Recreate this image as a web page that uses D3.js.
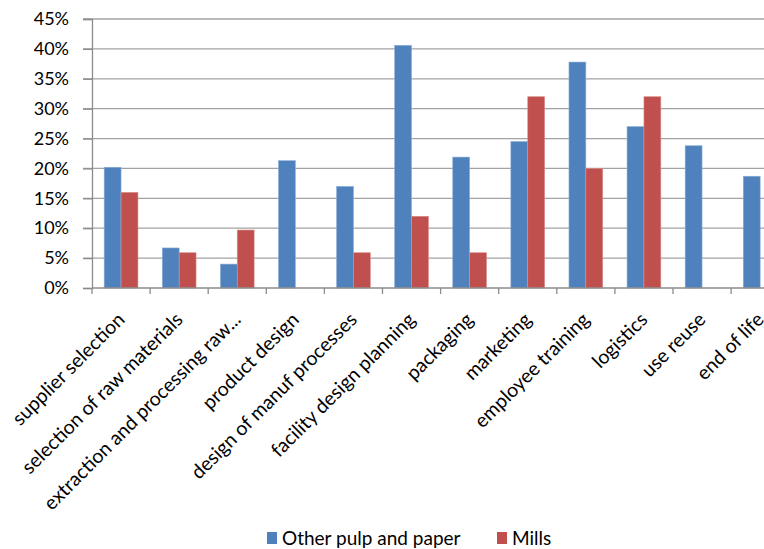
<!DOCTYPE html>
<html>
<head>
<meta charset="utf-8">
<script src="https://cdn.jsdelivr.net/npm/d3@7"></script>
<style>
  html, body { margin: 0; padding: 0; background: #ffffff; }
  svg { display: block; }
  text { font-family: Lato, "Open Sans", sans-serif; fill: #000; }
</style>
</head>
<body>
<script>
// Categories along the x axis
const categories = [
  "supplier selection", "selection of raw materials", "extraction and processing raw...",
  "product design", "design of manuf processes", "facility design planning",
  "packaging", "marketing", "employee training", "logistics", "use reuse", "end of life"
];
// Series values (%)
const otherPulpPaper = [20.2, 6.7, 4.0, 21.3, 17.0, 40.6, 21.9, 24.5, 37.8, 27.0, 23.8, 18.7];
const mills          = [16.0, 5.9, 9.7, 0,    5.9,  12.0, 5.9,  32.0, 20.0, 32.0, 0,    0];
const seriesNames = ["Other pulp and paper", "Mills"];
const seriesColors = ["#4F81BD", "#C0504D"];
// Y axis ticks (%)
const yTicks = [0, 5, 10, 15, 20, 25, 30, 35, 40, 45];

const W = 764, H = 549;
const plotLeft = 92, plotTop = 19, plotBottom = 288;
const band = 58.1;
const plotRight = plotLeft + band * categories.length;

const svg = d3.select("body").append("svg").attr("width", W).attr("height", H);

const x = d3.scaleBand().domain(categories).range([plotLeft, plotRight]).paddingInner(0).paddingOuter(0);
const y = d3.scaleLinear().domain([0, 45]).range([plotBottom, plotTop]);
const xs = d3.scaleBand().domain(seriesNames).range([0, band]).paddingInner(0).paddingOuter(0.72);

// Horizontal gridlines
svg.append("g")
  .selectAll("line")
  .data(yTicks.filter(d => d > 0))
  .join("line")
  .attr("x1", plotLeft - 9).attr("x2", plotRight)
  .attr("y1", d => y(d)).attr("y2", d => y(d))
  .attr("stroke", "#a3a3a3").attr("stroke-width", 1.3);

// Y axis
const yAxis = d3.axisLeft(y).tickValues(yTicks).tickFormat(d => d + "%").tickSize(9).tickPadding(14);
const gy = svg.append("g").attr("transform", `translate(${plotLeft},0)`).call(yAxis);
gy.select(".domain").attr("stroke", "#8c8c8c").attr("stroke-width", 1.3);
gy.selectAll(".tick line").attr("stroke", "#8c8c8c").attr("stroke-width", 1.3);
gy.selectAll(".tick text").style("font-size", "18px").style("font-family", "Lato, sans-serif").attr("fill", "#000");

// Bars
const rows = categories.map((c, i) => ({ cat: c, vals: [otherPulpPaper[i], mills[i]] }));
const groups = svg.append("g").selectAll("g")
  .data(rows).join("g")
  .attr("transform", d => `translate(${x(d.cat)},0)`);
groups.selectAll("rect")
  .data(d => d.vals.map((v, k) => ({ v, k })).filter(e => e.v > 0))
  .join("rect")
  .attr("x", e => xs(seriesNames[e.k]))
  .attr("width", xs.bandwidth())
  .attr("y", e => y(e.v))
  .attr("height", e => plotBottom - y(e.v))
  .attr("fill", e => seriesColors[e.k])
  .attr("stroke", e => e.k === 0 ? "#8fb0d8" : "#d98f8d")
  .attr("stroke-width", 0.6);

// X axis with ticks between categories
const xTickPositions = d3.range(categories.length + 1).map(i => plotLeft + i * band);
svg.append("line")
  .attr("x1", plotLeft).attr("x2", plotRight)
  .attr("y1", plotBottom).attr("y2", plotBottom)
  .attr("stroke", "#8c8c8c").attr("stroke-width", 1.3);
svg.append("g").selectAll("line")
  .data(xTickPositions).join("line")
  .attr("x1", d => d).attr("x2", d => d)
  .attr("y1", plotBottom).attr("y2", plotBottom + 6)
  .attr("stroke", "#8c8c8c").attr("stroke-width", 1.3);

// Rotated category labels
svg.append("g").selectAll("text")
  .data(categories).join("text")
  .attr("transform", d => `translate(${x(d) + x.bandwidth() / 2},${plotBottom + 28}) rotate(-45)`)
  .attr("text-anchor", "end")
  .attr("dy", "0.35em")
  .style("font-size", "19.5px")
  .text(d => d);

// Legend
const legend = svg.append("g").attr("transform", "translate(267,538)");
const legendItems = [{ name: seriesNames[0], color: seriesColors[0], x: 0 }, { name: seriesNames[1], color: seriesColors[1], x: 230 }];
const li = legend.selectAll("g").data(legendItems).join("g").attr("transform", d => `translate(${d.x},0)`);
li.append("rect").attr("x", 0).attr("y", -6).attr("width", 10).attr("height", 12).attr("fill", d => d.color);
li.append("text").attr("x", 15).attr("dy", "0.36em").style("font-size", "19px").text(d => d.name);
</script>
</body>
</html>
